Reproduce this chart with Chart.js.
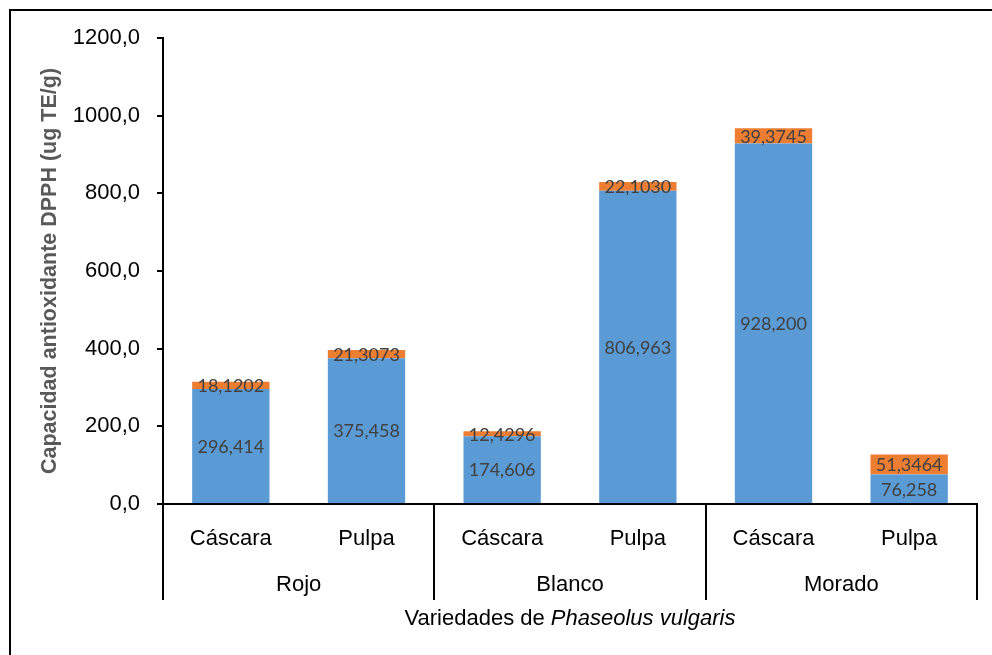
<!DOCTYPE html>
<html>
<head>
<meta charset="utf-8">
<script src="https://cdn.jsdelivr.net/npm/chart.js@4.4.1/dist/chart.umd.min.js"></script>
<style>
  html, body { margin: 0; padding: 0; background: #fff; }
  #wrap { position: relative; width: 992px; height: 655px; overflow: hidden; }
  canvas { display: block; }
</style>
</head>
<body>
<div id="wrap"><canvas id="c" width="992" height="655"></canvas></div>
<script>
// ---- data ----
const categories = ['Cáscara', 'Pulpa', 'Cáscara', 'Pulpa', 'Cáscara', 'Pulpa'];
const groups = ['Rojo', 'Blanco', 'Morado'];
const seriesBase = [296.414, 375.458, 174.606, 806.963, 928.200, 76.258];
const seriesTop = [18.1202, 21.3073, 12.4296, 22.1030, 39.3745, 51.3464];
const baseDecimals = 3;
const topDecimals = 4;
const yTicks = [0, 200, 400, 600, 800, 1000, 1200];
const yTitle = 'Capacidad antioxidante DPPH (ug TE/g)';
const xTitlePlain = 'Variedades de ';
const xTitleItalic = 'Phaseolus vulgaris';

const NARROW = '"Liberation Sans Narrow", "Arial Narrow", "Liberation Sans", Arial, sans-serif';
const LABELFONT = 'Lato, "Open Sans", sans-serif';

const fmt = (v, d) => v.toFixed(d).replace('.', ',');

const decorPlugin = {
  id: 'decor',
  beforeDraw(chart) {
    const ctx = chart.ctx;
    ctx.save();
    ctx.fillStyle = '#fff';
    ctx.fillRect(0, 0, chart.width, chart.height);
    ctx.strokeStyle = '#000';
    ctx.lineWidth = 2;
    ctx.strokeRect(10, 10, 1200, 1000);
    ctx.restore();
  },
  afterDraw(chart) {
    const ctx = chart.ctx;
    const xs = chart.scales.x;
    const bottom = chart.chartArea.bottom;
    ctx.save();
    // separators
    const bounds = [xs.left];
    for (let g = 1; g < groups.length; g++) {
      bounds.push((xs.getPixelForValue(g * 2 - 1) + xs.getPixelForValue(g * 2)) / 2);
    }
    bounds.push(xs.right);
    ctx.strokeStyle = '#000';
    ctx.lineWidth = 2;
    bounds.forEach(b => {
      ctx.beginPath();
      ctx.moveTo(Math.round(b), bottom);
      ctx.lineTo(Math.round(b), 600);
      ctx.stroke();
    });
    // group labels
    ctx.fillStyle = '#000';
    ctx.font = '22px ' + NARROW;
    ctx.textAlign = 'center';
    ctx.textBaseline = 'middle';
    groups.forEach((g, i) => {
      const cx = (xs.getPixelForValue(i * 2) + xs.getPixelForValue(i * 2 + 1)) / 2;
      ctx.fillText(g, cx, 585);
    });
    // x title with italic part
    const f1 = '22px ' + NARROW;
    const f2 = 'italic 22px ' + NARROW;
    ctx.font = f1;
    const w1 = ctx.measureText(xTitlePlain).width;
    ctx.font = f2;
    const w2 = ctx.measureText(xTitleItalic).width;
    const cx = (xs.left + xs.right) / 2;
    let sx = cx - (w1 + w2) / 2;
    ctx.textAlign = 'left';
    ctx.font = f1;
    ctx.fillStyle = '#000';
    ctx.fillText(xTitlePlain, sx, 619);
    ctx.font = f2;
    ctx.fillText(xTitleItalic, sx + w1, 619);
    // data labels
    ctx.font = '18px ' + LABELFONT;
    ctx.fillStyle = '#404040';
    ctx.textAlign = 'center';
    chart.data.datasets.forEach((ds, di) => {
      const meta = chart.getDatasetMeta(di);
      meta.data.forEach((el, i) => {
        const p = el.getProps(['x', 'y', 'base'], true);
        const yc = (p.y + p.base) / 2;
        ctx.fillText(fmt(ds.data[i], ds.decimals), p.x, yc + 1);
      });
    });
    ctx.restore();
  }
};

new Chart(document.getElementById('c'), {
  type: 'bar',
  data: {
    labels: categories,
    datasets: [
      { label: 'base', data: seriesBase, decimals: baseDecimals, backgroundColor: '#5B9BD5', categoryPercentage: 1, barPercentage: 0.57 },
      { label: 'top', data: seriesTop, decimals: topDecimals, backgroundColor: '#ED7D31', categoryPercentage: 1, barPercentage: 0.57 }
    ]
  },
  options: {
    responsive: false,
    animation: false,
    events: [],
    layout: { padding: { top: 38, right: 15, left: 0, bottom: 0 } },
    plugins: { legend: { display: false }, tooltip: { enabled: false } },
    scales: {
      x: {
        stacked: true,
        grid: { display: false },
        border: { display: true, color: '#000', width: 2 },
        ticks: { color: '#000', font: { family: NARROW, size: 22, lineHeight: 1.2 }, padding: 14, maxRotation: 0 },
        afterFit(s) { s.height = 151; }
      },
      y: {
        stacked: true,
        min: 0,
        max: 1200,
        afterBuildTicks(s) { s.ticks = yTicks.map(v => ({ value: v })); },
        grid: { display: true, drawOnChartArea: false, drawTicks: true, tickLength: 6, color: '#000', lineWidth: 2 },
        border: { display: true, color: '#000', width: 2 },
        ticks: { color: '#000', font: { family: NARROW, size: 22 }, padding: 17, callback: v => fmt(v, 1) },
        title: { display: true, text: yTitle, color: '#595959', font: { family: NARROW, size: 21.5, weight: 'bold', lineHeight: 1.2 }, padding: { top: 37, bottom: 0 } },
        afterFit(s) { s.width = 163; }
      }
    }
  },
  plugins: [decorPlugin]
});
</script>
</body>
</html>
